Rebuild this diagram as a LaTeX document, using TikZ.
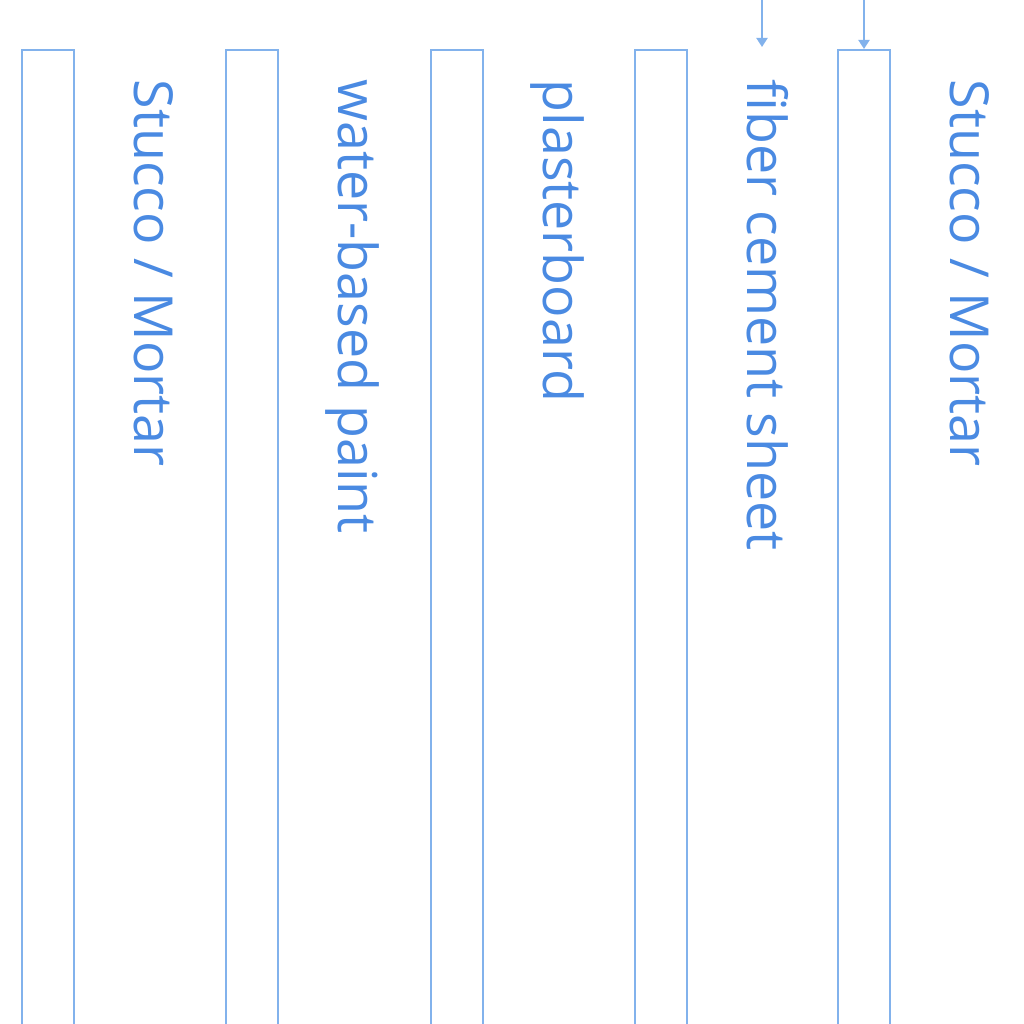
\documentclass[tikz,border=0pt]{standalone}
\usepackage{fontspec}
\setmainfont{Open Sans}
\usetikzlibrary{arrows.meta}
\definecolor{edgeblue}{RGB}{130,178,236}
\definecolor{labelblue}{RGB}{74,138,226}
\begin{document}
\begin{tikzpicture}[x=0.1mm, y=-0.1mm,
  layer/.style={draw=edgeblue, line width=0.2mm, fill=none, inner sep=0pt,
    minimum width=5.2mm, minimum height=99.5mm, anchor=north west},
  lbl/.style={text=labelblue, font=\fontsize{15.3pt}{18pt}\selectfont,
    rotate=-90, anchor=base west, inner sep=0pt},
  arr/.style={draw=edgeblue, line width=0.2mm,
    -{Triangle[length=0.9mm, width=1.1mm]}}]
\useasboundingbox (0,0) rectangle (1024,1024);
\clip (0,0) rectangle (1024,1024);
% material layers
\node[layer] (c1) at (21,49) {};
\node[layer] (c2) at (225,49) {};
\node[layer] (c3) at (430,49) {};
\node[layer] (c4) at (634,49) {};
\node[layer] (c5) at (837,49) {};
% layer names
\node[lbl] (t1) at (134,79) {Stucco / Mortar};
\node[lbl] (t2) at (338,79) {water-based paint};
\node[lbl] (t3) at (543,79) {plasterboard};
\node[lbl] (t4) at (747,79) {fiber cement sheet};
\node[lbl] (t5) at (950,79) {Stucco / Mortar};
% incoming arrows
\coordinate (s1) at (762,0);
\coordinate (s2) at (c5.north |- 0,0);
\draw[arr] (s1) -- ([yshift=0.2mm]s1 |- c5.north);
\draw[arr] (s2) -- (c5.north);
\end{tikzpicture}
\end{document}
